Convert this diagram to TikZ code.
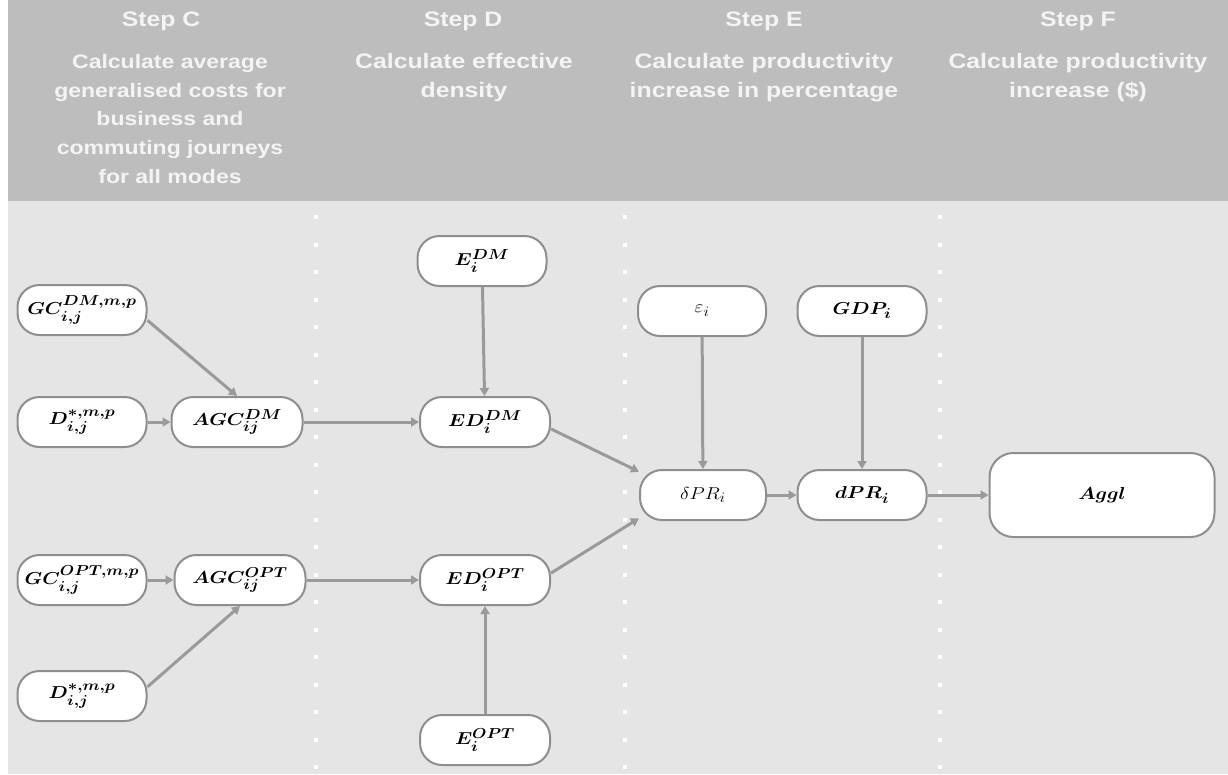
\documentclass[tikz,border=0pt]{standalone}
\usepackage[no-math]{fontspec}
\setmainfont{Liberation Sans}
\newfontfamily\headfont[FakeStretch=1.18]{Liberation Sans}
\usepackage{amsmath,bm,graphicx}
\usetikzlibrary{arrows.meta}

\definecolor{headbg}{HTML}{BDBDBD}
\definecolor{bodybg}{HTML}{E5E5E5}
\definecolor{headtext}{HTML}{F4F4F4}
\definecolor{edgegrey}{HTML}{8E8E8E}
\definecolor{arrowgrey}{HTML}{9A9A9A}

% wide math label used inside the rounded boxes
\newcommand{\lbl}[1]{\scalebox{1.15}[1]{$#1$}}

\tikzset{
  pill/.style={draw=edgegrey, line width=2pt, fill=white, rounded corners=22pt,
    minimum width=129pt, minimum height=50pt, inner sep=0pt,
    font=\fontsize{19}{22}\selectfont},
  conn/.style={draw=arrowgrey, line width=3pt,
    -{Triangle[length=8pt,width=9pt]}},
  steptitle/.style={text=headtext, anchor=base, inner sep=0pt,
    font=\headfont\bfseries\fontsize{21}{24}\selectfont},
  stepbody/.style={text=headtext, font=\headfont\bfseries\fontsize{21}{29}\selectfont,
    align=center, anchor=north, inner sep=0pt},
  stepbodysmall/.style={stepbody, font=\headfont\bfseries\fontsize{19.5}{28.7}\selectfont},
  sep/.style={draw=white, line width=4pt, dash pattern=on 4pt off 23.5pt}
}

\begin{document}
\begin{tikzpicture}[x=1pt,y=-1pt]
  % canvas, header band and body
  \fill[white] (0,0) rectangle (1228,774);
  \useasboundingbox (0,0) rectangle (1228,774);
  \fill[headbg] (8,0) rectangle (1228,201);
  \fill[bodybg] (8,201) rectangle (1228,774);

  % dotted column separators
  \foreach \xx in {316,625,940} {
    \draw[sep] (\xx,215) -- (\xx,774);
  }

  % step headings
  \node[steptitle] (tc) at (161,26) {Step C};
  \node[stepbodysmall] (bc) at (170,54) {Calculate average\\generalised costs for\\business and\\commuting journeys\\for all modes};
  \node[steptitle] (td) at (463,26) {Step D};
  \node[stepbody] (bd) at (464,53) {Calculate effective\\density};
  \node[steptitle] (te) at (764,26) {Step E};
  \node[stepbody] (be) at (764,53) {Calculate productivity\\increase in percentage};
  \node[steptitle] (tf) at (1078,26) {Step F};
  \node[stepbody] (bf) at (1078,53) {Calculate productivity\\increase (\$)};

  % step C
  \node[pill] (gcdm) at (82,310) {\lbl{\bm{GC_{i,j}^{DM,m,p}}}};
  \node[pill] (ddm) at (82,422) {\lbl{\bm{D_{i,j}^{*,m,p}}}};
  \node[pill, minimum width=131pt] (agcdm) at (237,422) {\lbl{\bm{AGC_{ij}^{DM}}}};
  \node[pill] (gcopt) at (82,580) {\lbl{\bm{GC_{i,j}^{OPT,m,p}}}};
  \node[pill, minimum width=131pt] (agcopt) at (240,580) {\lbl{\bm{AGC_{ij}^{OPT}}}};
  \node[pill] (dopt) at (82,696) {\lbl{\bm{D_{i,j}^{*,m,p}}}};

  % step D
  \node[pill] (edm) at (482,261) {\lbl{\bm{E_{i}^{DM}}}};
  \node[pill, minimum width=130pt] (eddm) at (485,422) {\lbl{\bm{ED_{i}^{DM}}}};
  \node[pill, minimum width=130pt] (edopt) at (485,580) {\lbl{\bm{ED_{i}^{OPT}}}};
  \node[pill, minimum width=130pt] (eopt) at (485,740) {\lbl{\bm{E_{i}^{OPT}}}};

  % step E
  \node[pill, minimum width=128pt] (eps) at (702,311) {\lbl{\varepsilon_i}};
  \node[pill] (gdp) at (862,311) {\lbl{\bm{GDP_i}}};
  \node[pill, minimum width=126pt] (dspr) at (703,495) {\lbl{\delta PR_i}};
  \node[pill] (dpr) at (862,495) {\lbl{\bm{dPR_i}}};

  % step F
  \node[pill, minimum width=225pt, minimum height=84pt, rounded corners=24pt] (aggl) at (1102,495) {\lbl{\bm{Aggl}}};

  % connectors
  \draw[conn] (gcdm.-9) -- (agcdm.north);
  \draw[conn] (ddm) -- (agcdm);
  \draw[conn] (agcdm) -- (eddm);
  \draw[conn] (edm) -- (eddm);
  \draw[conn] (gcopt) -- (agcopt);
  \draw[conn] (dopt.8) -- (agcopt.south);
  \draw[conn] (agcopt) -- (edopt);
  \draw[conn] (eopt) -- (edopt);
  \draw[conn] (eddm.-6) -- (dspr.160);
  \draw[conn] (edopt.6) -- (dspr.200);
  \draw[conn] (eps) -- (dspr);
  \draw[conn] (gdp) -- (dpr);
  \draw[conn] (dspr) -- (dpr);
  \draw[conn] (dpr) -- (aggl);
\end{tikzpicture}
\end{document}
